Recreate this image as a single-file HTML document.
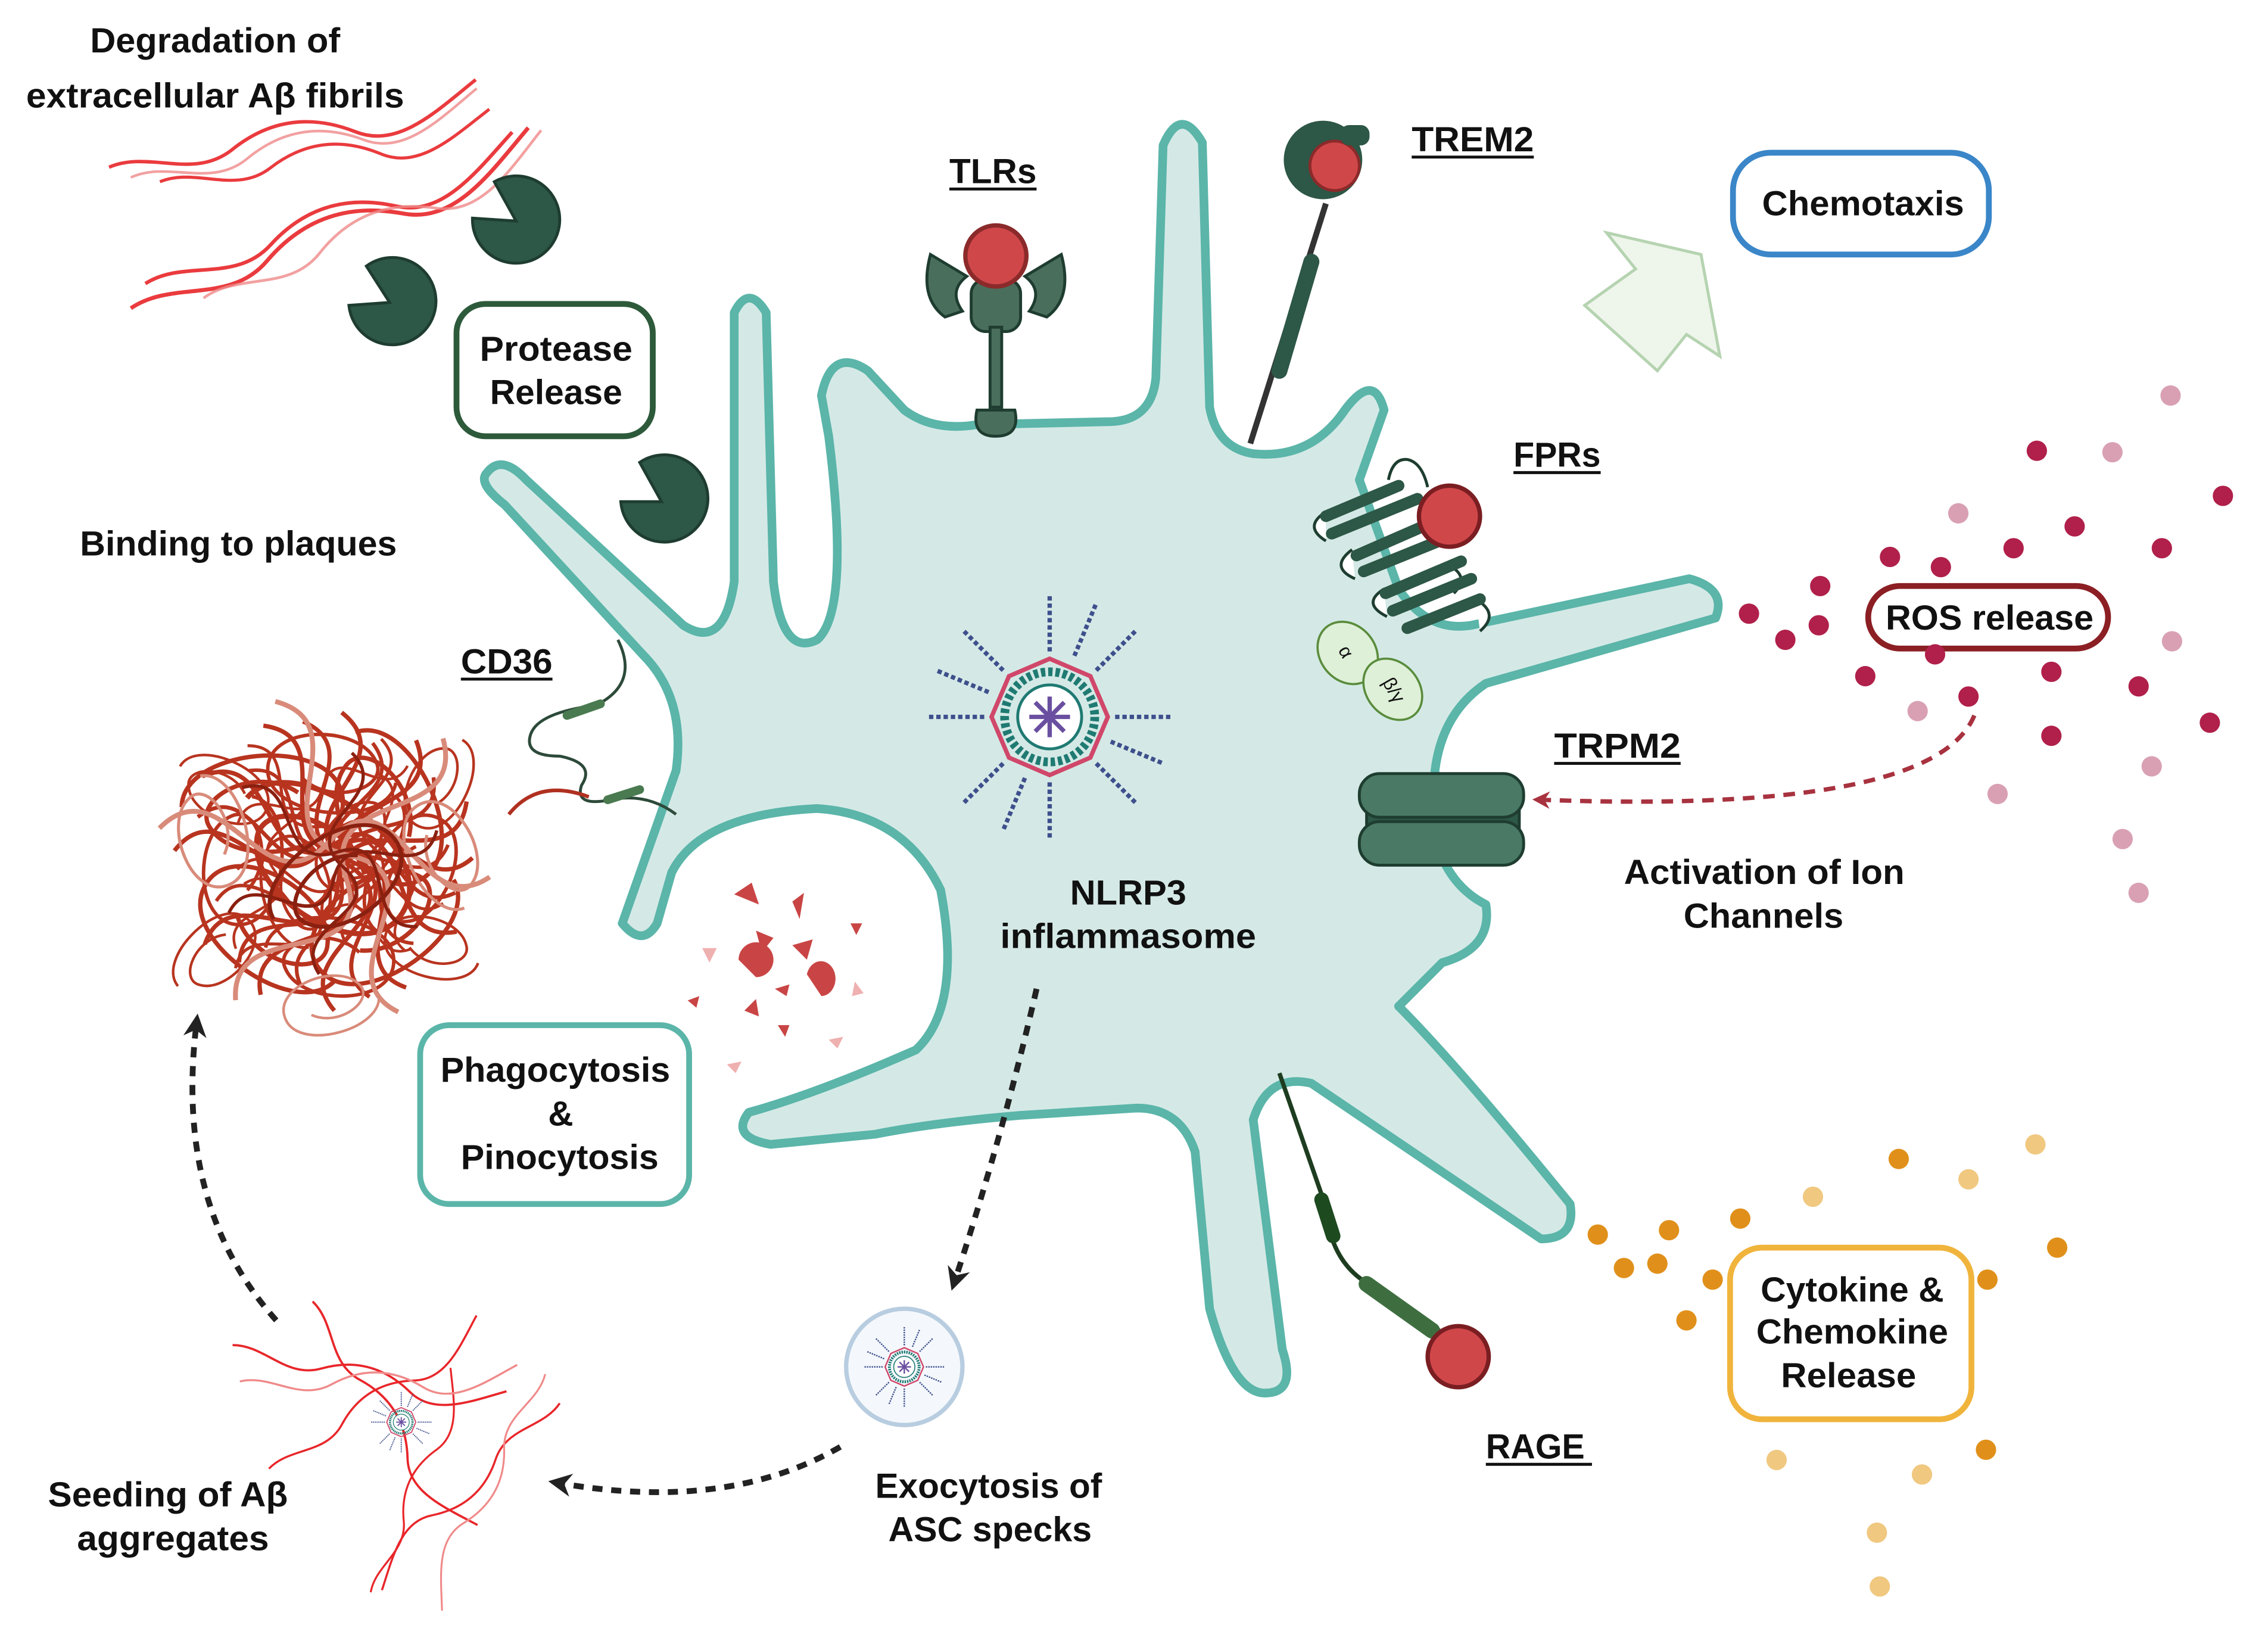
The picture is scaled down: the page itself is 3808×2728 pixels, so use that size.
<!DOCTYPE html>
<html><head><meta charset="utf-8"><style>
html,body{margin:0;padding:0;background:#fff;}
svg{display:block;}
text{font-family:"Liberation Sans",sans-serif;font-weight:bold;fill:#111;font-size:24px;}
</style></head><body>
<svg width="3808" height="2728" viewBox="0 0 1560 1117.5" preserveAspectRatio="none" xmlns="http://www.w3.org/2000/svg">
<defs>
<path id="sq" d="M-105 -10 C-70 -55 -35 35 0 -15 S 60 30 100 -5" fill="none"/>
<path id="lp" d="M-60 0 C-60 -40 40 -50 50 -10 C60 30 -20 45 -40 15 C-55 -5 -10 -30 20 -10" fill="none"/>
<path id="fib" d="M0 0 C30 -10 60 15 90 -5 S 150 -25 180 -10 S 240 -20 270 -40" fill="none"/>
<marker id="ah" viewBox="0 0 10 10" refX="5" refY="5" markerWidth="4" markerHeight="4" orient="auto"><path d="M0 0 L10 5 L0 10 L3 5 Z" fill="#222"/></marker>
<marker id="ahr" viewBox="0 0 10 10" refX="5" refY="5" markerWidth="4" markerHeight="4" orient="auto"><path d="M0 0 L10 5 L0 10 L3 5 Z" fill="#a8323f"/></marker>
<g id="infl">
<g stroke="#3e4f8c" stroke-width="3" stroke-dasharray="3 2">
<line x1="0" y1="-45" x2="0" y2="-85"/><line x1="0" y1="45" x2="0" y2="85"/>
<line x1="45" y1="0" x2="85" y2="0"/><line x1="-45" y1="0" x2="-85" y2="0"/>
<line x1="32" y1="-32" x2="60" y2="-60"/><line x1="-32" y1="32" x2="-60" y2="60"/>
<line x1="-32" y1="-32" x2="-60" y2="-60"/><line x1="32" y1="32" x2="60" y2="60"/>
<line x1="17" y1="-42" x2="32" y2="-78"/><line x1="-17" y1="42" x2="-32" y2="78"/>
<line x1="42" y1="17" x2="78" y2="32"/><line x1="-42" y1="-17" x2="-78" y2="-32"/>
</g>
<polygon points="0,-40 28,-28 40,0 28,28 0,40 -28,28 -40,0 -28,-28" fill="none" stroke="#d0476a" stroke-width="3"/>
<circle r="31" fill="none" stroke="#1f7a72" stroke-width="6" stroke-dasharray="3 2"/>
<circle r="22" fill="#fff" stroke="#1f7a72" stroke-width="2"/>
<g stroke="#6a4fa0" stroke-width="3"><line x1="-14" y1="0" x2="14" y2="0"/><line x1="0" y1="-14" x2="0" y2="14"/><line x1="-10" y1="-10" x2="10" y2="10"/><line x1="-10" y1="10" x2="10" y2="-10"/></g>
</g>
</defs>

<!-- red fibrils top-left -->
<g stroke="#e8262a" stroke-width="2.5" opacity="0.9">
<use href="#fib" transform="translate(75,115) rotate(-5) scale(0.95)"/>
<use href="#fib" transform="translate(90,212) rotate(-16) scale(1.1)"/>
<use href="#fib" transform="translate(110,125) rotate(-4) scale(0.85)"/>
<use href="#fib" transform="translate(100,195) rotate(-14) scale(1.0)"/>
</g>
<g stroke="#f08a8a" stroke-width="2" opacity="0.8">
<use href="#fib" transform="translate(140,205) rotate(-18) scale(0.95)"/>
<use href="#fib" transform="translate(90,122) rotate(-6) scale(0.9)"/>
</g>

<!-- cell -->
<path d="M335 325 Q345 312 362 330 L470 430 Q498 448 505 400 L505 215 Q515 195 527 215 L532 400 Q538 452 562 440 Q585 420 570 300 L565 272 Q572 238 597 255 L622 282 Q642 297 672 292 L762 290 Q792 290 795 260 L800 100 Q812 72 827 98 L832 280 Q837 308 862 312 Q902 316 925 282 Q945 255 952 282 L935 330 L962 405 Q982 435 1012 430 L1162 398 Q1188 405 1180 425 L1022 470 Q992 490 987 530 L992 590 Q1002 612 1022 622 Q1027 652 992 662 L962 692 Q1002 732 1080 828 Q1084 852 1060 852 L902 745 Q872 738 862 770 L882 928 Q892 958 870 958 Q848 958 832 900 L822 792 Q812 762 782 762 L702 767 Q642 772 602 780 L530 787 Q502 782 515 765 Q562 752 630 722 Q662 692 647 612 Q622 560 562 556 Q482 560 462 600 L452 635 Q442 652 428 635 L465 530 Q472 480 442 450 L347 347 Q328 332 335 325 Z" fill="#d4e9e6" stroke="#5bb5a9" stroke-width="6" stroke-linejoin="round"/>

<!-- pacmen -->
<g fill="#2d5746" stroke="#1e3d30" stroke-width="2">
<path d="M355 152 L340 125 A30 30 0 1 1 325 150 Z"/>
<path d="M268 208 L252 183 A30 30 0 1 1 240 210 Z"/>
<path d="M455 345 L440 318 A30 30 0 1 1 427 345 Z"/>
</g>

<!-- boxes -->
<rect x="314" y="209" width="135" height="91" rx="20" fill="#fff" stroke="#2d5a3a" stroke-width="4"/>
<rect x="1192" y="105" width="176" height="70" rx="26" fill="#fff" stroke="#3a86c8" stroke-width="4"/>
<rect x="1285" y="403" width="165" height="43" rx="22" fill="#fff" stroke="#8b1f24" stroke-width="4"/>
<rect x="289" y="705" width="185" height="123" rx="20" fill="#fff" stroke="#5bb5a9" stroke-width="4"/>

<!-- chemotaxis arrow -->
<path d="M1090 210 L1140 255 L1160 230 L1183 245 L1170 175 L1105 160 L1125 185 Z" fill="#eef5ea" stroke="#b5d3b0" stroke-width="2"/>

<!-- TLR -->
<g fill="#4a6e5c" stroke="#1e3d30" stroke-width="2">
<path d="M640 175 Q632 205 650 218 L662 214 Q652 200 665 190 Z"/>
<path d="M730 175 Q738 205 720 218 L708 214 Q718 200 705 190 Z"/>
<rect x="668" y="192" width="34" height="36" rx="10"/>
<rect x="681" y="225" width="8" height="55"/>
<path d="M672 282 Q668 300 685 300 Q702 300 698 282 Z"/>
</g>
<circle cx="685" cy="176" r="21" fill="#d0474a" stroke="#8b2a2a" stroke-width="3"/>

<!-- TREM2 -->
<line x1="912" y1="140" x2="860" y2="305" stroke="#333" stroke-width="4"/>
<line x1="902" y1="180" x2="880" y2="255" stroke="#2d5746" stroke-width="11" stroke-linecap="round"/>
<circle cx="910" cy="110" r="27" fill="#2d5746"/>
<circle cx="918" cy="114" r="17" fill="#d0474a" stroke="#8b2a2a" stroke-width="2"/>
<rect x="922" y="86" width="20" height="14" rx="6" fill="#2d5746"/>

<!-- FPR -->
<g stroke="#1e3d30" stroke-width="2" fill="#fff">
<path d="M955 330 Q958 315 968 316 Q978 318 982 335" fill="none"/>
<path d="M912 352 Q896 362 912 372"/><path d="M930 378 Q914 390 932 398"/><path d="M952 405 Q936 415 954 424"/>
<path d="M995 388 Q1012 396 1000 408"/><path d="M1015 412 Q1032 422 1018 434"/>
</g>
<g stroke="#2d5746" stroke-width="8" stroke-linecap="round">
<line x1="912" y1="355" x2="962" y2="334"/><line x1="916" y1="367" x2="975" y2="343"/>
<line x1="933" y1="382" x2="988" y2="358"/><line x1="938" y1="393" x2="995" y2="370"/>
<line x1="953" y1="408" x2="1005" y2="386"/><line x1="958" y1="420" x2="1012" y2="398"/>
<line x1="968" y1="432" x2="1018" y2="412"/>
</g>
<circle cx="997" cy="355" r="21" fill="#d0474a" stroke="#7a1e22" stroke-width="3"/>
<ellipse cx="927" cy="449" rx="19" ry="23" transform="rotate(-40 927 449)" fill="#def0d8" stroke="#5a8c3c" stroke-width="1.5"/>
<ellipse cx="958" cy="474" rx="18" ry="23" transform="rotate(-40 958 474)" fill="#def0d8" stroke="#5a8c3c" stroke-width="1.5"/>
<text x="922" y="454" style="font-size:13px;font-weight:normal" transform="rotate(60 927 449)">α</text>
<text x="950" y="478" style="font-size:13px;font-weight:normal" transform="rotate(60 958 474)">β/γ</text>

<!-- TRPM2 -->
<g fill="#4a7a66" stroke="#1e3d30" stroke-width="2">
<rect x="940" y="555" width="105" height="20" fill="#2d5746"/>
<rect x="935" y="532" width="113" height="30" rx="14"/>
<rect x="935" y="565" width="113" height="30" rx="14"/>
</g>

<!-- ROS dots -->
<g fill="#b0204a">
<circle cx="1401" cy="310" r="7"/><circle cx="1529" cy="341" r="7"/><circle cx="1385" cy="377" r="7"/><circle cx="1427" cy="362" r="7"/><circle cx="1300" cy="383" r="7"/><circle cx="1487" cy="377" r="7"/><circle cx="1335" cy="390" r="7"/><circle cx="1252" cy="403" r="7"/><circle cx="1203" cy="422" r="7"/><circle cx="1228" cy="440" r="7"/><circle cx="1251" cy="430" r="7"/><circle cx="1283" cy="465" r="7"/><circle cx="1411" cy="462" r="7"/><circle cx="1471" cy="472" r="7"/><circle cx="1354" cy="479" r="7"/><circle cx="1411" cy="506" r="7"/><circle cx="1520" cy="497" r="7"/><circle cx="1331" cy="450" r="7"/>
</g>
<g fill="#d9a0b4">
<circle cx="1493" cy="272" r="7"/><circle cx="1453" cy="311" r="7"/><circle cx="1347" cy="353" r="7"/><circle cx="1494" cy="441" r="7"/><circle cx="1319" cy="489" r="7"/><circle cx="1480" cy="527" r="7"/><circle cx="1374" cy="546" r="7"/><circle cx="1460" cy="577" r="7"/><circle cx="1471" cy="614" r="7"/>
</g>
<path d="M1358 492 Q1330 560 1060 550" fill="none" stroke="#a8323f" stroke-width="3" stroke-dasharray="8 6" marker-end="url(#ahr)"/>

<!-- inflammasome -->
<use href="#infl" transform="translate(722,493)"/>

<!-- CD36 -->
<path d="M425 440 Q440 470 410 485 Q370 490 365 505 Q360 520 385 520 Q410 525 400 540 Q395 555 420 550 Q445 545 465 560" fill="none" stroke="#2d4a3a" stroke-width="2"/>
<line x1="390" y1="492" x2="413" y2="484" stroke="#4a7a50" stroke-width="6" stroke-linecap="round"/>
<line x1="418" y1="550" x2="440" y2="543" stroke="#4a7a50" stroke-width="6" stroke-linecap="round"/>
<path d="M405 548 Q370 535 350 560" fill="none" stroke="#b03020" stroke-width="2.5"/>

<!-- plaque -->
<g transform="translate(225,595)" stroke="#b8341f" stroke-width="3" fill="none">
<use href="#sq" transform="rotate(0)"/><use href="#sq" transform="rotate(15) scale(0.9)"/><use href="#sq" transform="rotate(30)"/><use href="#sq" transform="rotate(45) scale(0.8)"/><use href="#sq" transform="rotate(60)"/><use href="#sq" transform="rotate(75) scale(0.95)"/><use href="#sq" transform="rotate(90)"/><use href="#sq" transform="rotate(105) scale(0.85)"/><use href="#sq" transform="rotate(120)"/><use href="#sq" transform="rotate(135) scale(0.9)"/><use href="#sq" transform="rotate(150)"/><use href="#sq" transform="rotate(165) scale(0.8)"/>
<use href="#sq" transform="translate(10,20) rotate(8) scale(0.7)"/><use href="#sq" transform="translate(-15,-20) rotate(52) scale(0.7)"/><use href="#sq" transform="translate(20,-15) rotate(98) scale(0.7)"/><use href="#sq" transform="translate(-10,25) rotate(142) scale(0.7)"/>
<use href="#sq" transform="translate(0,40) rotate(20) scale(0.6)"/><use href="#sq" transform="translate(0,-45) rotate(-20) scale(0.6)"/><use href="#sq" transform="translate(40,0) rotate(80) scale(0.6)"/><use href="#sq" transform="translate(-45,0) rotate(110) scale(0.6)"/>
<use href="#lp" transform="translate(-40,-40)"/><use href="#lp" transform="translate(40,-35) rotate(70)"/><use href="#lp" transform="translate(35,40) rotate(150)"/><use href="#lp" transform="translate(-40,40) rotate(220)"/>
<use href="#lp" transform="translate(0,0) rotate(40) scale(1.2)"/><use href="#lp" transform="translate(-60,0) rotate(100) scale(0.8)"/><use href="#lp" transform="translate(60,5) rotate(300) scale(0.8)"/><use href="#lp" transform="translate(0,-65) rotate(190) scale(0.8)"/><use href="#lp" transform="translate(5,65) rotate(10) scale(0.8)"/>
<use href="#lp" transform="translate(-20,15) rotate(260) scale(0.7)"/><use href="#lp" transform="translate(20,-15) rotate(130) scale(0.7)"/><use href="#lp" transform="translate(-70,-50) rotate(30) scale(0.6)"/><use href="#lp" transform="translate(70,55) rotate(200) scale(0.6)"/><use href="#lp" transform="translate(75,-55) rotate(120) scale(0.6)"/><use href="#lp" transform="translate(-75,60) rotate(320) scale(0.6)"/>
<g stroke="#d98b7a" stroke-width="3"><use href="#sq" transform="rotate(7) scale(1.12)"/><use href="#sq" transform="rotate(67) scale(1.12)"/><use href="#sq" transform="rotate(127) scale(1.12)"/><use href="#lp" transform="translate(-80,-20) rotate(80) scale(0.7)"/><use href="#lp" transform="translate(80,-10) rotate(250) scale(0.7)"/><use href="#lp" transform="translate(0,95) rotate(170) scale(0.6)"/></g>
<g stroke="#8a2010"><use href="#sq" transform="rotate(37) scale(0.75)"/><use href="#sq" transform="rotate(97) scale(0.75)"/><use href="#sq" transform="rotate(157) scale(0.75)"/><use href="#lp" transform="translate(10,10) rotate(330) scale(0.9)"/></g>
</g>

<!-- fragments -->
<g fill="#c94545">
<path d="M505 615 l12 -8 l5 15 z"/><path d="M545 620 l8 -6 l-3 18 z"/><path d="M520 640 l12 5 l-8 10 z"/><path d="M545 650 l14 -4 l-4 14 z"/><path d="M508 660 a12 12 0 1 1 12 12 z"/><path d="M555 670 a10 12 0 1 1 10 15 z"/><path d="M533 680 l10 -3 l-2 8 z"/><path d="M512 695 l8 -8 l2 12 z"/><path d="M585 635 l8 0 l-4 8 z"/><path d="M473 688 l8 -3 l-2 8 z"/><path d="M535 705 l8 0 l-3 8 z"/>
</g>
<g fill="#efb0b0"><path d="M483 652 l10 0 l-5 10 z"/><path d="M588 675 l6 8 l-8 2 z"/><path d="M570 715 l10 -2 l-4 8 z"/><path d="M500 732 l10 -2 l-4 8 z"/></g>

<!-- RAGE -->
<path d="M880 738 L912 830 Q915 870 945 885 L990 915" fill="none" stroke="#1e3d20" stroke-width="3"/>
<line x1="909" y1="825" x2="917" y2="850" stroke="#1e4a20" stroke-width="10" stroke-linecap="round"/>
<line x1="940" y1="883" x2="985" y2="915" stroke="#3e6e40" stroke-width="11" stroke-linecap="round"/>
<circle cx="1003" cy="933" r="21" fill="#d0474a" stroke="#7a1e22" stroke-width="3"/>

<!-- cytokine dots -->
<g fill="#e0901a"><circle cx="1306" cy="797" r="7"/><circle cx="1099" cy="849" r="7"/><circle cx="1148" cy="846" r="7"/><circle cx="1197" cy="838" r="7"/><circle cx="1415" cy="858" r="7"/><circle cx="1117" cy="872" r="7"/><circle cx="1140" cy="869" r="7"/><circle cx="1367" cy="880" r="7"/><circle cx="1160" cy="908" r="7"/><circle cx="1366" cy="997" r="7"/><circle cx="1178" cy="880" r="7"/></g>
<g fill="#f0c880"><circle cx="1400" cy="787" r="7"/><circle cx="1354" cy="811" r="7"/><circle cx="1247" cy="823" r="7"/><circle cx="1222" cy="1004" r="7"/><circle cx="1322" cy="1014" r="7"/><circle cx="1291" cy="1054" r="7"/><circle cx="1293" cy="1091" r="7"/></g>
<rect x="1190" y="858" width="166" height="118" rx="22" fill="#fff" stroke="#f0b43c" stroke-width="4"/>

<!-- arrows -->
<path d="M713 680 Q690 780 657 880" fill="none" stroke="#222" stroke-width="4" stroke-dasharray="7 6" marker-end="url(#ah)"/>
<path d="M578 995 Q500 1040 385 1020" fill="none" stroke="#222" stroke-width="4" stroke-dasharray="7 6" marker-end="url(#ah)"/>
<path d="M190 908 Q120 830 135 705" fill="none" stroke="#222" stroke-width="4" stroke-dasharray="7 6" marker-end="url(#ah)"/>

<!-- ASC speck -->
<circle cx="622" cy="940" r="40" fill="#f4f8fc" stroke="#b8cde0" stroke-width="3"/>
<use href="#infl" transform="translate(622,940) scale(0.33)"/>

<!-- seeding -->
<g stroke="#e8262a" stroke-width="2.2">
<use href="#fib" transform="translate(160,925) rotate(18) scale(0.7)"/>
<use href="#fib" transform="translate(185,1010) rotate(-28) scale(0.65)"/>
<use href="#fib" transform="translate(215,895) rotate(62) scale(0.7)"/>
<use href="#fib" transform="translate(385,965) rotate(142) scale(0.65)"/>
<use href="#fib" transform="translate(255,1095) rotate(-62) scale(0.6)"/>
</g>
<g stroke="#f08a8a" stroke-width="2"><use href="#fib" transform="translate(165,950) rotate(5) scale(0.7)"/><use href="#fib" transform="translate(375,945) rotate(122) scale(0.65)"/></g>
<use href="#infl" transform="translate(276,978) scale(0.25)"/>

<!-- labels -->
<text x="62" y="36" textLength="172" lengthAdjust="spacingAndGlyphs">Degradation of</text>
<text x="18" y="74" textLength="260" lengthAdjust="spacingAndGlyphs">extracellular Aβ fibrils</text>
<text x="330" y="248" textLength="105" lengthAdjust="spacingAndGlyphs">Protease</text>
<text x="337" y="278" textLength="91" lengthAdjust="spacingAndGlyphs">Release</text>
<text x="55" y="382" textLength="218" lengthAdjust="spacingAndGlyphs">Binding to plaques</text>
<text x="317" y="463" textLength="63" lengthAdjust="spacingAndGlyphs">CD36</text>
<text x="653" y="126" textLength="60" lengthAdjust="spacingAndGlyphs">TLRs</text>
<text x="971" y="104" textLength="84" lengthAdjust="spacingAndGlyphs">TREM2</text>
<text x="1212" y="148" textLength="139" lengthAdjust="spacingAndGlyphs">Chemotaxis</text>
<text x="1041" y="321" textLength="60" lengthAdjust="spacingAndGlyphs">FPRs</text>
<text x="1297" y="433" textLength="143" lengthAdjust="spacingAndGlyphs">ROS release</text>
<text x="1069" y="521" textLength="87" lengthAdjust="spacingAndGlyphs">TRPM2</text>
<text x="1117" y="608" textLength="193" lengthAdjust="spacingAndGlyphs">Activation of Ion</text>
<text x="1158" y="638" textLength="110" lengthAdjust="spacingAndGlyphs">Channels</text>
<text x="736" y="622" textLength="80" lengthAdjust="spacingAndGlyphs">NLRP3</text>
<text x="688" y="652" textLength="176" lengthAdjust="spacingAndGlyphs">inflammasome</text>
<text x="303" y="744" textLength="158" lengthAdjust="spacingAndGlyphs">Phagocytosis</text>
<text x="377" y="774">&amp;</text>
<text x="317" y="804" textLength="136" lengthAdjust="spacingAndGlyphs">Pinocytosis</text>
<text x="602" y="1030" textLength="156" lengthAdjust="spacingAndGlyphs">Exocytosis of</text>
<text x="611" y="1060" textLength="140" lengthAdjust="spacingAndGlyphs">ASC specks</text>
<text x="33" y="1036" textLength="165" lengthAdjust="spacingAndGlyphs">Seeding of Aβ</text>
<text x="53" y="1066" textLength="132" lengthAdjust="spacingAndGlyphs">aggregates</text>
<text x="1022" y="1003" textLength="68" lengthAdjust="spacingAndGlyphs">RAGE</text>
<text x="1211" y="895" textLength="126" lengthAdjust="spacingAndGlyphs">Cytokine &amp;</text>
<text x="1208" y="924" textLength="132" lengthAdjust="spacingAndGlyphs">Chemokine</text>
<text x="1225" y="954" textLength="93" lengthAdjust="spacingAndGlyphs">Release</text>

<!-- underlines -->
<g stroke="#111" stroke-width="2">
<line x1="317" y1="467" x2="380" y2="467"/><line x1="653" y1="130" x2="713" y2="130"/><line x1="971" y1="108" x2="1055" y2="108"/>
<line x1="1041" y1="325" x2="1101" y2="325"/><line x1="1069" y1="525" x2="1156" y2="525"/><line x1="1022" y1="1007" x2="1095" y2="1007"/>
</g>
</svg>
</body></html>
